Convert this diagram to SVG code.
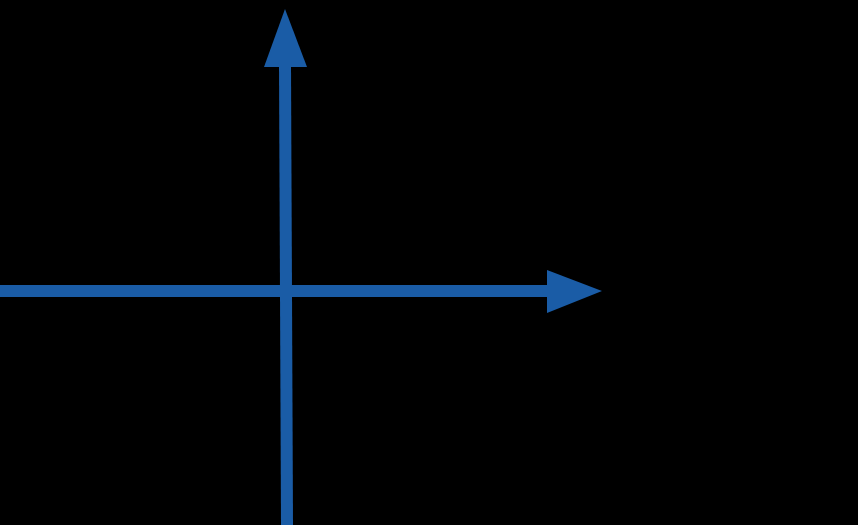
<svg xmlns="http://www.w3.org/2000/svg" width="858" height="525" viewBox="0 0 858 525">
<style>.ax{stroke:#1a5ca6;stroke-width:12;fill:none}.hd{fill:#1a5ca6}</style>
<rect width="858" height="525" fill="#000"/>
<g id="connectors">
<line class="ax" x1="0" y1="291" x2="550" y2="291"/>
<polygon class="hd" points="547,270 602,291 547,313"/>
<line class="ax" x1="287" y1="525" x2="285" y2="64"/>
<polygon class="hd" points="264,67 285,9 307,67"/>
</g>
</svg>
